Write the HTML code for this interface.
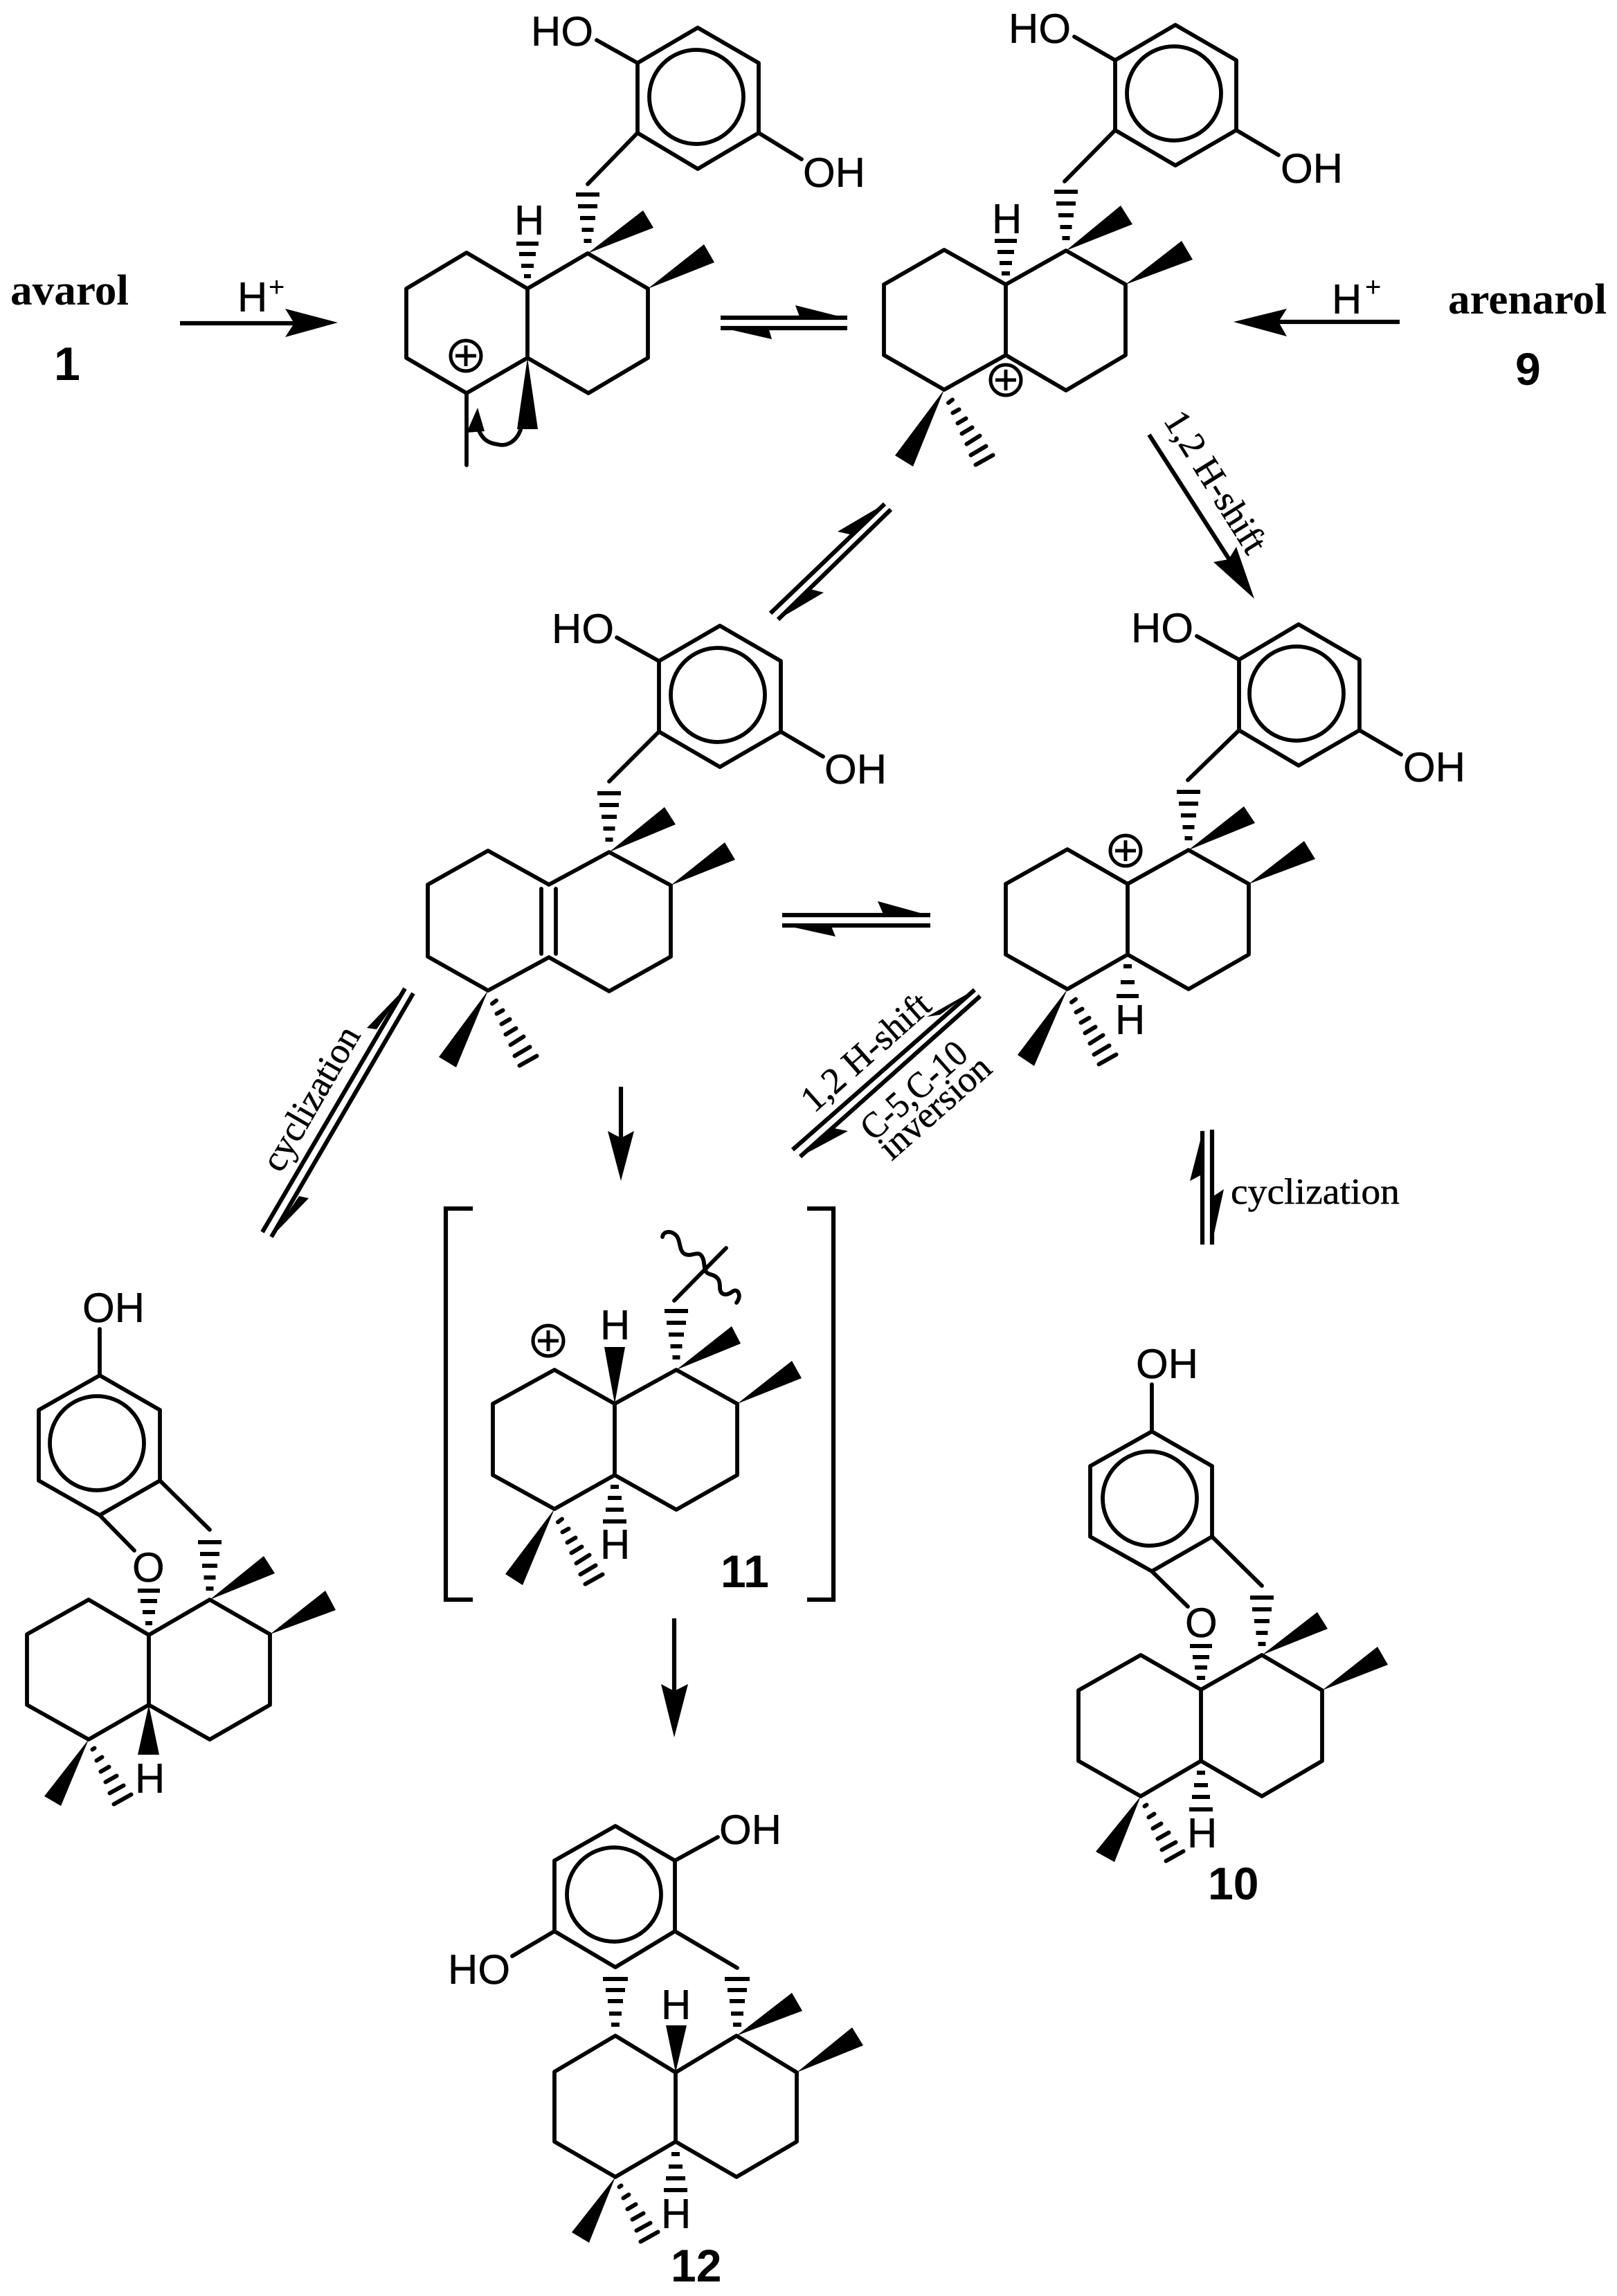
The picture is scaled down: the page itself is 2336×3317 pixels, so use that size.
<!DOCTYPE html>
<html><head><meta charset="utf-8"><title>Avarol and arenarol rearrangement scheme</title>
<style>
html,body{margin:0;padding:0;background:#fff}
svg{display:block}
.a{font:60px "Liberation Sans",sans-serif;fill:#000;stroke:#000;stroke-width:.4}
.p{font:40px "Liberation Sans",sans-serif;fill:#000}
.b{font:bold 66px "Liberation Sans",sans-serif;fill:#000}
.s{font:bold 62px "Liberation Serif",serif;fill:#000}
.r{font:53px "Liberation Serif",serif;fill:#000;stroke:#000;stroke-width:.5}
.l{fill:none;stroke:#000;stroke-width:5.8;stroke-linejoin:round;stroke-linecap:round}
.h{fill:none;stroke:#000;stroke-width:6}
.k{fill:none;stroke:#000;stroke-width:6.2}
</style></head><body>
<svg xmlns="http://www.w3.org/2000/svg" width="2336" height="3317" viewBox="0 0 2336 3317">
<defs>
<g id="hu" class="h"><path d="M-17-85H17M-14-68H14M-11-51H11M-8.5-34H8.5M-5.5-18H5.5"/></g>
<g id="hr" class="h" stroke-linecap="round"><path d="M6 19 12 14.5M12.5 33.5 21.5 28.5M19.5 48.5 31.5 41.5M25.5 63.5 40.5 54.5M32.5 78.5 51.5 66.5M38.5 94.5 60.5 81.5M45.5 108.5 70.5 94.5"/></g>
<g id="hs" class="h" stroke-linecap="round"><path d="M5.5 14.5 8.5 12.5M11.5 30.5 19.5 25.5M17.5 46.5 29.5 39.5M24.5 61.5 40.5 52.5M30.5 77.5 50.5 66.5M36.5 93.5 61.5 79.5"/></g>
<g id="plus"><circle r="22" fill="#fff" stroke="#000" stroke-width="5"/><path d="M-15 0H15M0-15V15" stroke="#000" stroke-width="5"/></g>
</defs>
<rect width="2336" height="3317" fill="#fff"/>

<!-- Molecule A -->
<g class="l">
<path d="M674 365 587 417V517L674 568 762 517V417Z"/>
<path d="M762 417 849 366 936 417V517L850 568 762 517"/>
<path d="M921 91 1008 40 1096 91V192L1008 244 921 192Z"/>
<circle cx="1006" cy="140" r="68"/>
<path d="M862 58 921 91M921 192 849 266M1096 192 1158 230M674 568V672"/>
<path d="M752 621C745 640 730 645 719 642 705 640 697 635 691 620"/>
</g>
<use href="#hu" x="849" y="366"/>
<path class="h" d="M746 352H778M750 367H774M753 384H771M757 399H767"/>
<polygon points="849,366 929,304 944,329"/>
<polygon points="936,417 1017,353 1032,379"/>
<polygon points="762,517 747,620 777,620"/>
<polygon points="690,589 674,625 700,623"/>
<use href="#plus" x="673" y="514"/>
<text class="a" x="767" y="66">HO</text>
<text class="a" x="1160" y="270">OH</text>
<text class="a" x="743" y="339">H</text>

<!-- Labels and arrows, top -->
<text class="s" x="15" y="440" textLength="171" lengthAdjust="spacingAndGlyphs">avarol</text>
<text class="b" x="78" y="549" style="font-size:68px">1</text>
<path class="k" d="M260 467H425"/>
<polygon points="488,466 412,446 425,467 412,487"/>
<text class="a" x="343" y="450">H</text><text class="p" x="388" y="428">+</text>

<path class="k" d="M1041 459H1224M1041 474H1224"/>
<polygon points="1224,460 1149,441 1156,460"/>
<polygon points="1041,473 1115,490 1110,473"/>

<text class="s" x="2092" y="453" textLength="229" lengthAdjust="spacingAndGlyphs">arenarol</text>
<text class="b" x="2189" y="556">9</text>
<path class="k" d="M2022 465H1847"/>
<polygon points="1782,465 1859,446 1847,465 1859,486"/>
<text class="a" x="1924" y="453">H</text><text class="p" x="1972" y="428">+</text>

<!-- Molecule B -->
<g class="l">
<path d="M1364 361 1277 411V513L1364 563 1453 513V411Z"/>
<path d="M1453 411 1540 362 1626 411V513L1540 564 1453 513"/>
<path d="M1611 87 1698 36 1786 87V188L1698 239 1611 188Z"/>
<circle cx="1696" cy="135" r="68"/>
<path d="M1552 53 1611 87M1611 188 1538 262M1786 188 1847 224"/>
</g>
<use href="#hu" x="1540" y="362"/>
<path class="h" d="M1437 348H1469M1441 364H1465M1444 380H1462M1447 395H1459"/>
<polygon points="1540,362 1619,297 1636,324"/>
<polygon points="1626,411 1707,348 1723,375"/>
<polygon points="1364,563 1293,658 1319,674"/>
<use href="#hr" x="1364" y="563"/>
<use href="#plus" x="1453" y="549"/>
<text class="a" x="1457" y="62">HO</text>
<text class="a" x="1850" y="264">OH</text>
<text class="a" x="1433" y="337">H</text>

<!-- B to D arrow -->
<path class="k" d="M1660 628 1777 810"/>
<polygon points="1812,865 1786,790 1775,808 1753,812"/>
<text class="r" transform="translate(1680,607) rotate(58)" textLength="232" lengthAdjust="spacingAndGlyphs">1,2 H-shift</text>

<!-- B / C equilibrium -->
<path class="k" d="M1113 886 1278 728M1124 895 1287 736"/>
<polygon points="1278,728 1210,768 1228,772"/>
<polygon points="1124,895 1190,856 1170,851"/>

<!-- Molecule C -->
<g class="l">
<path d="M793 1278 705 1229 618 1278V1382L705 1431 793 1383"/>
<path d="M793 1278 880 1231 969 1279V1382L880 1432 793 1383"/>
<path d="M782 1284V1378M803 1284V1378"/>
<path d="M952 955 1040 904 1128 955V1057L1040 1108 952 1057Z"/>
<circle cx="1037" cy="1004" r="68"/>
<path d="M891 921 952 955M952 1057 880 1129M1128 1057 1189 1093"/>
</g>
<use href="#hu" x="880" y="1231"/>
<polygon points="880,1231 960,1166 976,1191"/>
<polygon points="969,1279 1047,1217 1062,1242"/>
<polygon points="705,1431 634,1527 659,1542"/>
<use href="#hr" x="705" y="1431"/>
<text class="a" x="797" y="929">HO</text>
<text class="a" x="1191" y="1132">OH</text>

<!-- C / D equilibrium -->
<path class="k" d="M1130 1322H1344M1130 1337H1344"/>
<polygon points="1344,1323 1268,1302 1277,1323"/>
<polygon points="1130,1336 1207,1353 1200,1336"/>

<!-- Molecule D -->
<g class="l">
<path d="M1542 1227 1453 1277V1379L1542 1429 1629 1379V1277Z"/>
<path d="M1629 1277 1717 1228 1804 1277V1379L1717 1429 1629 1379"/>
<path d="M1790 953 1876 902 1964 953V1055L1876 1106 1790 1055Z"/>
<circle cx="1873" cy="1002" r="68"/>
<path d="M1729 919 1790 953M1790 1055 1716 1127M1964 1055 2024 1090"/>
</g>
<use href="#hu" x="1717" y="1229"/>
<polygon points="1717,1228 1797,1165 1813,1189"/>
<polygon points="1804,1277 1884,1215 1900,1241"/>
<polygon points="1542,1429 1470,1524 1494,1540"/>
<use href="#hr" x="1542" y="1429"/>
<path class="h" d="M1623 1396H1635M1619 1419H1639M1613 1439H1645"/>
<use href="#plus" x="1626" y="1229"/>
<text class="a" x="1634" y="928">HO</text>
<text class="a" x="2027" y="1129">OH</text>
<text class="a" x="1611" y="1494">H</text>

<!-- Down arrow C to 11 -->
<path class="k" d="M897 1570V1650"/>
<polygon points="897,1706 878,1634 897,1644 916,1634"/>

<!-- 1,2 H shift equilibrium -->
<path class="k" d="M1145 1661 1408 1430M1156 1671 1416 1439"/>
<polygon points="1408,1430 1339,1469 1358,1466"/>
<polygon points="1156,1671 1225,1634 1205,1630"/>
<text class="r" transform="translate(1176,1609) rotate(-41.5)" textLength="230" lengthAdjust="spacingAndGlyphs">1,2 H-shift</text>
<text class="r" transform="translate(1262,1650) rotate(-41.5)" textLength="186" lengthAdjust="spacingAndGlyphs">C-5,C-10</text>
<text class="r" transform="translate(1288,1678) rotate(-41.5)" textLength="197" lengthAdjust="spacingAndGlyphs">inversion</text>

<!-- cyclization right -->
<path class="k" d="M1737 1634V1798M1751 1632V1798"/>
<polygon points="1738,1632 1719,1706 1738,1696"/>
<polygon points="1750,1800 1768,1718 1750,1730"/>
<text class="r" x="1778" y="1739" textLength="244" lengthAdjust="spacingAndGlyphs">cyclization</text>

<!-- cyclization left -->
<path class="k" d="M379 1780 585 1428M392 1787 597 1435"/>
<polygon points="585,1428 530,1485 544,1487"/>
<polygon points="392,1787 446,1731 432,1728"/>
<text class="r" transform="translate(406,1696) rotate(-60)" textLength="232" lengthAdjust="spacingAndGlyphs">cyclization</text>

<!-- Brackets -->
<path class="k" d="M683 1746H644V2311H683M1166 1746H1204V2311H1166"/>

<!-- Molecule E (11) -->
<g class="l">
<path d="M801 1979 712 2028V2131L801 2180 888 2131V2028Z"/>
<path d="M888 2028 977 1979 1065 2028V2131L977 2181 888 2131"/>
<path d="M974 1879 1049 1803"/>
<path d="M957 1787C958 1778 970 1778 976 1784 984 1791 980 1808 990 1812 1000 1816 1008 1806 1014 1815 1020 1824 1014 1838 1026 1841 1038 1844 1040 1850 1040 1860 1040 1872 1050 1872 1058 1866 1066 1860 1072 1872 1064 1882"/>
</g>
<use href="#hu" x="977" y="1979"/>
<polygon points="977,1979 1057,1916 1070,1941"/>
<polygon points="1065,2028 1144,1966 1158,1991"/>
<polygon points="888,2028 873,1946 903,1946"/>
<path class="h" d="M882 2148H894M878 2164H898M875 2181H901M871 2198H905"/>
<polygon points="801,2180 730,2274 755,2290"/>
<use href="#hr" x="800" y="2180"/>
<use href="#plus" x="792" y="1937"/>
<text class="a" x="867" y="1935">H</text>
<text class="a" x="867" y="2252">H</text>
<text class="b" x="1041" y="2293">11</text>
<path class="k" d="M974 2338V2450"/>
<polygon points="974,2510 955,2433 974,2443 994,2433"/>

<!-- Molecule F -->
<g class="l">
<path d="M128 2311 39 2361V2463L128 2513 215 2463V2362Z"/>
<path d="M215 2362 303 2311 390 2361V2463L303 2513 215 2463"/>
<path d="M144 1987 56 2037V2139L144 2189 231 2139V2037Z"/>
<circle cx="140" cy="2085" r="68"/>
<path d="M144 1920V1987M144 2189 194 2240M231 2139 303 2210"/>
</g>
<use href="#hu" x="303" y="2313"/>
<path class="h" d="M199 2298H231M203 2313H227M206 2329H224M210 2345H220"/>
<polygon points="303,2311 381,2248 397,2273"/>
<polygon points="390,2361 470,2298 485,2326"/>
<polygon points="215,2463 199,2535 230,2535"/>
<polygon points="128,2513 64,2595 88,2609"/>
<use href="#hs" x="128" y="2513"/>
<text class="a" x="119" y="1910">OH</text>
<text class="a" x="191" y="2285">O</text>
<text class="a" x="195" y="2590">H</text>

<!-- Molecule G (10) -->
<g class="l">
<path d="M1648 2391 1558 2442V2544L1648 2595 1735 2544V2441Z"/>
<path d="M1735 2441 1823 2391 1910 2442V2544L1823 2595 1735 2544"/>
<path d="M1664 2068 1575 2118V2220L1664 2270 1751 2220V2118Z"/>
<circle cx="1661" cy="2165" r="68"/>
<path d="M1664 2000V2068M1664 2270 1716 2321M1751 2220 1823 2291"/>
</g>
<use href="#hu" x="1823" y="2393"/>
<path class="h" d="M1719 2378H1751M1723 2394H1747M1726 2409H1744M1729 2424H1741"/>
<polygon points="1823,2391 1903,2329 1918,2353"/>
<polygon points="1910,2442 1990,2379 2005,2405"/>
<polygon points="1648,2595 1583,2675 1610,2690"/>
<use href="#hs" x="1648" y="2595"/>
<path class="h" d="M1729 2561H1741M1725 2579H1745M1722 2596H1748M1718 2614H1752"/>
<text class="a" x="1641" y="1991">OH</text>
<text class="a" x="1712" y="2365">O</text>
<text class="a" x="1715" y="2669">H</text>
<text class="b" x="1745" y="2744">10</text>

<!-- Molecule H (12) -->
<g class="l">
<path d="M889 2638 801 2688V2790L889 2842 975 2790V2688Z"/>
<circle cx="887" cy="2737" r="68"/>
<path d="M975 2688 1037 2654M801 2790 740 2826M975 2790 1065 2843"/>
<path d="M889 2941 801 2993V3094L889 3145 976 3094V2994Z"/>
<path d="M976 2994 1064 2941 1151 2994V3094L1064 3145 976 3094"/>
</g>
<path class="h" d="M1047 2859H1083M1051 2875H1079M1054 2891H1076M1056 2909H1074M1059 2925H1071"/>
<path class="h" d="M871 2859H907M875 2875H903M878 2891H900M880 2909H898M883 2925H895"/>
<polygon points="976,2994 962,2926 992,2926"/>
<polygon points="1064,2941 1144,2879 1159,2905"/>
<polygon points="1151,2994 1231,2929 1247,2955"/>
<path class="h" d="M970 3112H982M966 3130H986M962 3147H990M959 3164H993"/>
<polygon points="889,3145 826,3225 851,3240"/>
<use href="#hs" x="889" y="3145"/>
<text class="a" x="1039" y="2664">OH</text>
<text class="a" x="647" y="2866">HO</text>
<text class="a" x="955" y="2917">H</text>
<text class="a" x="955" y="3219">H</text>
<text class="b" x="969" y="3296">12</text>
</svg>
</body></html>
